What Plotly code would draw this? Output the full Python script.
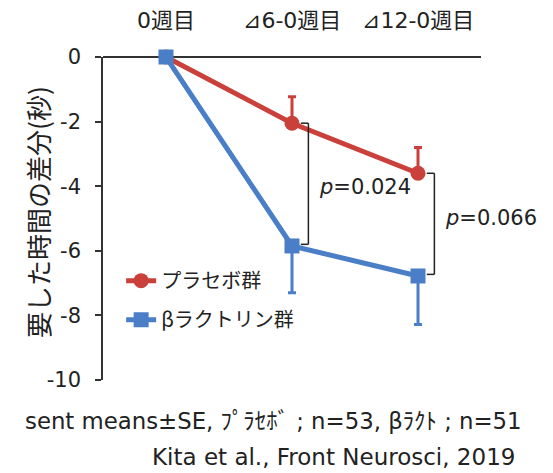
import plotly.graph_objects as go

categories = ["0週目", "⊿6-0週目", "⊿12-0週目"]
placebo_mean = [0, -2.05, -3.6]
placebo_se = [0, 0.82, 0.8]
beta_mean = [0, -5.85, -6.78]
beta_se = [0, 1.45, 1.5]
p_values = ["<i>p</i>=0.024", "<i>p</i>=0.066"]
y_ticks = [0, -2, -4, -6, -8, -10]

RED = "#C9413A"
BLUE = "#4A7FC8"
FONT = "DejaVu Sans, Verdana, Noto Sans CJK JP"
JFONT = "Noto Sans CJK JP, DejaVu Sans"

xs = list(range(len(categories)))

fig = go.Figure()
fig.add_trace(go.Scatter(
    x=xs, y=placebo_mean, mode="lines+markers", name="プラセボ群",
    line=dict(color=RED, width=5),
    marker=dict(symbol="circle", size=15, color=RED),
    error_y=dict(type="data", symmetric=False, array=placebo_se, arrayminus=[0] * 3,
                 visible=True, color=RED, thickness=3, width=4),
    cliponaxis=False, legendgroup="a",
))
fig.add_trace(go.Scatter(
    x=xs, y=beta_mean, mode="lines+markers", name="βラクトリン群",
    line=dict(color=BLUE, width=5),
    marker=dict(symbol="square", size=15, color=BLUE),
    error_y=dict(type="data", symmetric=False, array=[0] * 3, arrayminus=beta_se,
                 visible=True, color=BLUE, thickness=3, width=4),
    cliponaxis=False, legendgroup="b",
))

shapes = []
annotations = []
# significance brackets
for k in [1, 2]:
    xr = k + 0.13
    xl = k + 0.07
    y1 = placebo_mean[k]
    y2 = beta_mean[k] + 0.05
    for (a, b, c, d) in [(xl, y1, xr, y1), (xr, y1, xr, y2), (xl, y2, xr, y2)]:
        shapes.append(dict(type="line", x0=a, y0=b, x1=c, y1=d, xref="x", yref="y",
                           line=dict(color="#222222", width=1.5)))

annotations.append(dict(x=0.693, y=-4.02, xref="paper", yref="y", text=p_values[0],
                        showarrow=False, font=dict(size=21, family=FONT, color="#222"),
                        xanchor="center", yanchor="middle"))
annotations.append(dict(x=1.027, y=-4.98, xref="paper", yref="y", text=p_values[1],
                        showarrow=False, font=dict(size=21, family=FONT, color="#222"),
                        xanchor="center", yanchor="middle"))

# top category labels
for x, c in zip(xs, categories):
    annotations.append(dict(x=x, y=1.112, xref="x", yref="paper", text=c, showarrow=False,
                            font=dict(size=22, family=FONT, color="#222"),
                            xanchor="center", yanchor="middle"))

# y-axis title
annotations.append(dict(x=-0.175, y=0.52, xref="paper", yref="paper",
                        text="要した時間の差分(秒)", textangle=-90, showarrow=False,
                        font=dict(size=26, family=JFONT, color="#222"),
                        xanchor="center", yanchor="middle"))

# footnotes
annotations.append(dict(x=1.114, y=-0.127, xref="paper", yref="paper",
                        text="sent means±SE, ﾌﾟﾗｾﾎﾞ ; n=53, βﾗｸﾄ ; n=51",
                        showarrow=False, font=dict(size=22.8, family=FONT, color="#222"),
                        xanchor="right", yanchor="middle"))
annotations.append(dict(x=1.095, y=-0.238, xref="paper", yref="paper",
                        text="Kita et al., Front Neurosci, 2019",
                        showarrow=False, font=dict(size=23, family=FONT, color="#222"),
                        xanchor="right", yanchor="middle"))

fig.update_layout(
    width=553, height=473,
    margin=dict(l=95, r=80, t=49, b=101),
    paper_bgcolor="white", plot_bgcolor="white",
    font=dict(family=FONT, color="#222"),
    showlegend=True,
    legend=dict(x=0.048, y=0.368, xanchor="left", yanchor="top",
                font=dict(size=20, family=JFONT, color="#222"),
                bgcolor="rgba(0,0,0,0)", tracegroupgap=10, traceorder="grouped"),
    shapes=shapes,
    annotations=annotations,
    xaxis=dict(range=[-0.5, 2.5], showgrid=False, zeroline=False, showline=False,
               showticklabels=False, ticks="", automargin=False),
    yaxis=dict(range=[-10, 0], tickvals=y_ticks, ticktext=[str(v) for v in y_ticks],
               showgrid=False, zeroline=True, zerolinecolor="#333", zerolinewidth=1.5,
               showline=True, linecolor="#333", linewidth=1.5, ticks="outside",
               ticklen=6, tickcolor="#333", tickwidth=1.5, ticklabelstandoff=10,
               tickfont=dict(size=21, family=FONT, color="#222"), automargin=False),
)

fig.write_html("out.html")
